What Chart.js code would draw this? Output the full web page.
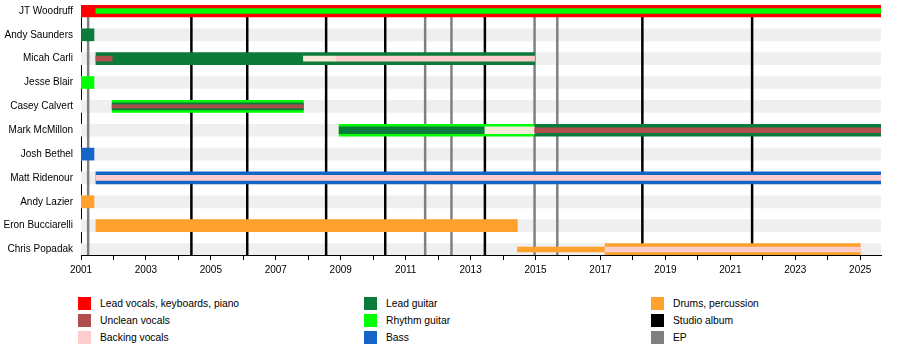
<!DOCTYPE html>
<html>
<head>
<meta charset="utf-8">
<script src="https://cdn.jsdelivr.net/npm/chart.js@4.4.1/dist/chart.umd.min.js"></script>
<style>
  body { margin: 0; background: #fff; font-family: "Liberation Sans", Arial, sans-serif; }
  #wrap { position: relative; width: 900px; height: 355px; }
  #box { position: absolute; left: 0; top: 0; width: 900px; height: 280px; }
  .item { position: absolute; font-size: 10.3px; color: #000; line-height: 13px; white-space: nowrap; }
  .item span { position: absolute; left: 0; top: 0; width: 13px; height: 13px; }
  .item b { font-weight: normal; position: absolute; left: 22px; top: 0; }
</style>
</head>
<body>
<div id="wrap">
  <div id="box"><canvas id="timeline"></canvas></div>
  <div id="legend"></div>
</div>
<script>
// membros da banda, de cima para baixo
const members = ['JT Woodruff', 'Andy Saunders', 'Micah Carli', 'Jesse Blair', 'Casey Calvert',
  'Mark McMillon', 'Josh Bethel', 'Matt Ridenour', 'Andy Lazier', 'Eron Bucciarelli', 'Chris Popadak'];

const startYear = 2001;
const endYear = 2025.64;
const tickYears = [2001, 2002, 2003, 2004, 2005, 2006, 2007, 2008, 2009, 2010, 2011, 2012, 2013,
  2014, 2015, 2016, 2017, 2018, 2019, 2020, 2021, 2022, 2023, 2024, 2025];

// [membro, papel, inicio, fim]
const mainBars = [
  ['JT Woodruff', 'vocals', 2001, 2025.64],
  ['Andy Saunders', 'lead', 2001, 2001.4],
  ['Micah Carli', 'lead', 2001.46, 2014.97],
  ['Jesse Blair', 'rhythm', 2001, 2001.4],
  ['Casey Calvert', 'rhythm', 2001.96, 2007.85],
  ['Mark McMillon', 'rhythm', 2008.95, 2014.97],
  ['Mark McMillon', 'lead', 2014.97, 2025.64],
  ['Josh Bethel', 'bass', 2001, 2001.4],
  ['Matt Ridenour', 'bass', 2001.46, 2025.64],
  ['Andy Lazier', 'drums', 2001, 2001.4],
  ['Eron Bucciarelli', 'drums', 2001.46, 2014.44],
  ['Chris Popadak', 'drums', 2017.14, 2025.0]
];
const midBars = [
  ['Casey Calvert', 'lead', 2001.96, 2007.85],
  ['Mark McMillon', 'lead', 2008.95, 2013.44],
  ['Mark McMillon', 'backing2', 2013.44, 2014.97]
];
const innerBars = [
  ['JT Woodruff', 'rhythm', 2001.46, 2025.64],
  ['Micah Carli', 'unclean', 2001.46, 2001.96],
  ['Micah Carli', 'backing2', 2007.85, 2008.85],
  ['Micah Carli', 'backing', 2008.85, 2014.97],
  ['Mark McMillon', 'unclean', 2014.97, 2025.64],
  ['Matt Ridenour', 'backing', 2001.46, 2025.64],
  ['Chris Popadak', 'drums', 2014.44, 2017.14],
  ['Chris Popadak', 'backing', 2017.14, 2025.0]
];
const coreBars = [
  ['Casey Calvert', 'unclean', 2001.96, 2007.85]
];

// lancamentos
const studioAlbums = [2004.40, 2006.12, 2008.55, 2010.37, 2013.44, 2018.29, 2021.67];
const eps = [2001.22, 2011.60, 2012.41, 2014.97, 2015.67];

const colors = {
  vocals: '#ff0000',
  unclean: '#b04e4e',
  backing: '#ffcccc',
  backing2: '#f5ead9',
  lead: '#0b7a3b',
  rhythm: '#00ff00',
  bass: '#1565c8',
  drums: '#ffa12c',
  album: '#000000',
  ep: '#808080'
};

const legendItems = [
  ['vocals', 'Lead vocals, keyboards, piano'], ['unclean', 'Unclean vocals'], ['backing', 'Backing vocals'],
  ['lead', 'Lead guitar'], ['rhythm', 'Rhythm guitar'], ['bass', 'Bass'],
  ['drums', 'Drums, percussion'], ['album', 'Studio album'], ['ep', 'EP']
];

function toData(list) {
  return list.map(s => ({ x: [s[2], s[3]], y: members.indexOf(s[0]) }));
}
function toColors(list) {
  return list.map(s => colors[s[1]]);
}

// linhas dos lancamentos, por cima das faixas cinzas e por baixo das barras
const releaseLines = {
  id: 'releaseLines',
  afterDatasetDraw(chart, args) {
    if (args.index !== 0) return;
    const { ctx, chartArea, scales: { x } } = chart;
    ctx.save();
    ctx.lineWidth = 2.5;
    const draw = (years, color) => {
      ctx.strokeStyle = color;
      years.forEach(v => {
        const px = x.getPixelForValue(v);
        ctx.beginPath();
        ctx.moveTo(px, chartArea.top);
        ctx.lineTo(px, chartArea.bottom);
        ctx.stroke();
      });
    };
    draw(eps, colors.ep);
    draw(studioAlbums, colors.album);
    ctx.restore();
  }
};

Chart.defaults.font.family = '"Liberation Sans", Arial, sans-serif';
Chart.defaults.font.size = 10;
Chart.defaults.color = '#000';

const ctx = document.getElementById('timeline').getContext('2d');
const timeline = new Chart(ctx, {
  type: 'bar',
  data: {
    datasets: [
      {
        label: 'faixas',
        data: members.map((m, i) => ({ x: [startYear, endYear], y: i })),
        backgroundColor: '#efefef',
        barThickness: 12,
        order: 5
      },
      { label: 'main', data: toData(mainBars), backgroundColor: toColors(mainBars), barThickness: 12, order: 4 },
      { label: 'mid', data: toData(midBars), backgroundColor: toColors(midBars), barThickness: 7, order: 3 },
      { label: 'inner', data: toData(innerBars), backgroundColor: toColors(innerBars), barThickness: 5, order: 2 },
      { label: 'core', data: toData(coreBars), backgroundColor: toColors(coreBars), barThickness: 3, order: 1 }
    ]
  },
  options: {
    indexAxis: 'y',
    responsive: true,
    maintainAspectRatio: false,
    animation: false,
    layout: { padding: { left: 0, right: 19, top: 5, bottom: 0 } },
    datasets: { bar: { grouped: false, borderWidth: 0 } },
    scales: {
      x: {
        type: 'linear',
        min: startYear,
        max: endYear,
        afterBuildTicks: s => { s.ticks = tickYears.map(v => ({ value: v })); },
        afterFit: s => { s.height = 25; s.paddingLeft = 0; s.paddingRight = 0; },
        grid: { drawOnChartArea: false, drawTicks: true, tickLength: 5, color: '#000' },
        border: { display: true, color: '#000', width: 1 },
        ticks: {
          autoSkip: false,
          maxRotation: 0,
          padding: 4,
          callback: v => ((v - startYear) % 2 === 0 ? String(v) : '')
        }
      },
      y: {
        type: 'linear',
        reverse: true,
        offset: false,
        min: -0.25,
        max: 10.23,
        afterBuildTicks: s => { s.ticks = members.map((m, i) => ({ value: i })); },
        afterFit: s => { s.width = 81; s.paddingTop = 0; s.paddingBottom = 0; },
        grid: { display: false, drawTicks: false, offset: false },
        border: { display: true, color: '#000', width: 1 },
        ticks: { autoSkip: false, padding: 8, callback: v => members[v] }
      }
    },
    plugins: {
      legend: { display: false },
      tooltip: { enabled: false }
    }
  },
  plugins: [releaseLines]
});

// legenda em tres colunas
const legend = document.getElementById('legend');
const colX = [78, 364, 651];
const rowY = [297, 314, 331];
legendItems.forEach((it, i) => {
  const d = document.createElement('div');
  d.className = 'item';
  d.style.left = colX[Math.floor(i / 3)] + 'px';
  d.style.top = rowY[i % 3] + 'px';
  d.innerHTML = '<span style="background:' + colors[it[0]] + '"></span><b>' + it[1] + '</b>';
  legend.appendChild(d);
});
</script>
</body>
</html>
